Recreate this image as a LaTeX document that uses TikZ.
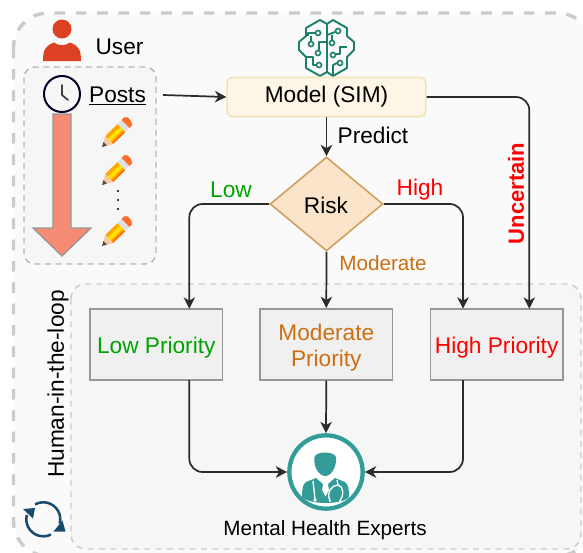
\documentclass[tikz,border=0pt]{standalone}
\usepackage{fontspec}
\setmainfont{Liberation Sans}
\usetikzlibrary{arrows.meta,shapes.geometric}
\definecolor{framegray}{HTML}{CBCBCB}
\definecolor{outerfill}{HTML}{FAFAFA}
\definecolor{innerfill}{HTML}{F6F6F6}
\definecolor{boxfill}{HTML}{F0F0F0}
\definecolor{boxline}{HTML}{979797}
\definecolor{wire}{HTML}{2B2B2B}
\definecolor{lowgreen}{HTML}{00A300}
\definecolor{modorange}{HTML}{CC6F10}
\definecolor{brainc}{HTML}{1B7F6A}
\definecolor{docteal}{HTML}{339C98}
\definecolor{refreshc}{HTML}{174A6B}
\definecolor{userred}{HTML}{DD4124}
\definecolor{salmon}{HTML}{F58B72}
\definecolor{modelfill}{HTML}{FDF5E6}
\definecolor{modelline}{HTML}{F3E3B8}
\definecolor{riskfill}{HTML}{FAE5CB}
\definecolor{riskline}{HTML}{D0A060}
\newcommand{\bigt}{\fontsize{17pt}{20pt}\selectfont}
\newcommand{\smallt}{\fontsize{15.5pt}{19pt}\selectfont}
\newcommand{\boxtxt}[1]{\raisebox{-7.2pt}[0pt][0pt]{\begin{tabular}{@{}c@{}}#1\end{tabular}}}
\tikzset{
  pxunit/.style={x=0.75pt,y=-0.75pt},
  outerframe/.style={draw=framegray,fill=outerfill,line width=2.6pt,rounded corners=26pt,dash pattern=on 8pt off 8pt},
  innerframe/.style={draw=framegray,fill=innerfill,line width=1.1pt,rounded corners=11pt,dash pattern=on 4.5pt off 4pt},
  postsframe/.style={draw=framegray!90!black,fill=innerfill,line width=1.1pt,rounded corners=8pt,dash pattern=on 4.5pt off 3.5pt},
  priobox/.style={draw=boxline,fill=boxfill,line width=1.2pt,minimum height=53.2pt,minimum width=99.5pt,inner sep=0pt,font=\bigt},
  modelbox/.style={draw=modelline,fill=modelfill,line width=1.2pt,rounded corners=4pt,minimum width=149pt,minimum height=29.5pt,font=\bigt},
  riskbox/.style={diamond,aspect=1.2,draw=riskline,fill=riskfill,line width=1.2pt,minimum width=84.75pt,minimum height=70.5pt,inner sep=0pt,font=\bigt},
  lbl/.style={inner sep=0pt,font=\bigt},
  lbls/.style={inner sep=0pt,font=\smallt},
  conn/.style={draw=wire,line width=1.3pt,rounded corners=10pt,-{Stealth[length=8.5pt,width=8.5pt,inset=2.5pt]}},
  tracew/.style={draw=brainc,line width=1.4pt,line join=round},
  traced/.style={draw=brainc,fill=white,line width=1.2pt},
  pencil/.pic={
    \fill[orange!70!yellow] (-3.9,12) -- (-11.7,4) -- (0.5,-7.9) -- (8.3,0.1) -- cycle;
    \fill[yellow!85!orange] (-6.5,9.4) -- (-9.1,6.6) -- (3.1,-5.3) -- (5.7,-2.5) -- cycle;
    \fill[orange!90!red] (-3.9,12) -- (-5.2,10.7) -- (7,-1.2) -- (8.3,0.1) -- cycle;
    \fill[orange!35!white!90!brown] (-15,15) -- (-11.7,4) -- (-3.9,12) -- cycle;
    \fill[black!70] (-15,15) -- (-13.5,10) -- (-10,13.5) -- cycle;
    \fill[black!12] (0.5,-7.9) -- (8.3,0.1) -- (12.5,-4) -- (4.7,-12) -- cycle;
    \fill[orange!65!red!85!white] (4.7,-12) -- (12.5,-4) -- (15.2,-6.8) -- (14,-11) -- (11,-14.5) -- (7.4,-14.8) -- cycle;
  }
}
\begin{document}
\begin{tikzpicture}[pxunit]
\useasboundingbox (0,0) rectangle (583,553);
% frames
\path[outerframe] (13.5,13) rectangle (592,556);
\path[postsframe] (24,67) rectangle (156,264);
\path[innerframe] (71,284) rectangle (581,549);
% user icon
\fill[userred] (62,29) circle[radius=9.5];
\fill[userred] (43,61) .. controls (43,50) and (45,46) .. (54,42.5) .. controls (58,46) and (66,46) .. (70,42.5) .. controls (79,46) and (81,50) .. (81,61) -- cycle;
\node[lbl] (user) at (119.5,47) {User};
% posts
\node[lbl] (posts) at (117.5,96) {\underline{Posts}};
\draw[draw=boxline,fill=salmon,line width=1pt] (53,114) -- (71,114) -- (71,228) -- (91,228) -- (62,256) -- (33,228) -- (53,228) -- cycle;
\node[draw=black!85!blue,line width=1.5pt,circle,minimum size=27pt,inner sep=0pt] (clock) at (62,94) {};
\draw[black!75,line width=1.3pt,line cap=round,line join=round] (62,85) -- (62,95) -- (68,100);
\pic at (117,132) {pencil};
\pic at (117,170) {pencil};
\pic at (117,231) {pencil};
\fill[black] (118,191) circle[radius=1.1] (118,200) circle[radius=1.1] (118,209) circle[radius=1.1];
% brain icon
\draw[tracew] (320,20) -- (327,24) -- (333,20) -- (347,28) -- (347,36) -- (354,42) -- (354,50) -- (347,57) -- (347,68) -- (333,76) -- (327,72) -- (320,76) -- (306,68) -- (306,57) -- (299,50) -- (299,42) -- (306,36) -- (306,28) -- cycle;
\draw[tracew] (327,24) -- (327,72);
\draw[tracew] (308,36) -- (308,33) -- (315,33);
\draw[tracew] (311,41) -- (311,36);
\draw[tracew] (327,42) -- (319,42) -- (319,50);
\draw[tracew] (306,57) -- (313,57) -- (313,65) -- (316,65);
\draw[tracew] (327,35) -- (335,32);
\draw[tracew] (332,40) -- (332,35);
\draw[tracew] (347,47) -- (340,47) -- (340,54) -- (336,54);
\draw[tracew] (333,75) -- (333,65) -- (337,63);
\path[traced] (318,33) circle[radius=2.5] (311,44) circle[radius=2.5] (318,53) circle[radius=2.5] (319,65) circle[radius=2.5] (338,31) circle[radius=2.5] (332,43) circle[radius=2.5] (333,55) circle[radius=2.5] (340,63) circle[radius=2.5];
% main nodes
\node[modelbox] (model) at (326.5,97) {Model (SIM)};
\node[riskbox] (risk) at (326.5,204) {};
\node[lbl] (risktext) at (326,205) {Risk};
\node[priobox,text=lowgreen] (low) at (156.3,344.3) {\boxtxt{Low Priority}};
\node[priobox,text=modorange] (mod) at (326.3,344.3) {\boxtxt{Moderate\\Priority}};
\node[priobox,text=red] (high) at (496.7,344.3) {\boxtxt{High Priority}};
% doctor
\node[circle,draw=docteal,line width=3.2pt,fill=white,minimum size=55pt,inner sep=0pt] (doc) at (326,472) {};
\fill[docteal] (314.5,457) .. controls (316,451) and (334,451) .. (336,457) .. controls (337,467) and (331,476) .. (325.5,476) .. controls (319,476) and (313,467) .. (314.5,457) -- cycle;
\fill[docteal] (302,497) .. controls (302,488) and (303,484) .. (306,482) -- (316,478) -- (323,484) -- (322,490) -- (325.5,497) -- (329,490) -- (328,484) -- (335,478) -- (345,482) .. controls (348,484) and (349,488) .. (349,497) .. controls (342,505) and (310,505) .. (302,497) -- cycle;
\draw[white,line width=1pt] (313,481) -- (315,499);
\draw[white,line width=1pt] (337,480) -- (338,485);
\draw[white,line width=1pt] (330,501) .. controls (326,492) and (332,485) .. (338,485) .. controls (344,486) and (344,496) .. (340,501);
\fill[white] (315,500) circle[radius=1.8] (330,501) circle[radius=1.1] (340,501) circle[radius=1.1];
\node[lbls] (experts) at (325,530) {Mental Health Experts};
% labels
\node[lbl] (predict) at (373,135) {Predict};
\node[lbl,text=lowgreen] (lowl) at (231,190) {Low};
\node[lbl,text=red] (highl) at (420,190) {High};
\node[lbls,text=modorange] (modl) at (383,263) {Moderate};
\node[inner sep=0pt,font=\fontsize{16.5pt}{20pt}\selectfont,text=red,rotate=90] (unc) at (516,193.5) {\textbf{Uncertain}};
\node[lbl,rotate=90] (hitl) at (58,384) {Human-in-the-loop};
% anchor points on boxes
\coordinate (postsout) at (163,95);
\coordinate (lowin) at (189.3,308.7);
\coordinate (lowout) at (189.3,380);
\coordinate (highin) at (463,308.7);
\coordinate (highout) at (463,380);
\coordinate (uncin) at (529.3,308.7);
% connectors
\draw[conn] (postsout) -- (model.west);
\draw[conn] (model.south) -- (risk.north);
\draw[conn] (model.east) -| (uncin);
\draw[conn] (risk.west) -| (lowin);
\draw[conn] (risk.east) -| (highin);
\draw[conn] (risk.south) -- (mod.north);
\draw[conn] (lowout) |- (doc.west);
\draw[conn] (highout) |- (doc.east);
\draw[conn] (mod.south) -- (doc.north);
% refresh icon
\draw[refreshc,line width=1.9pt] (43.3,519.3) ++(241:17) arc[start angle=241,end angle=375,radius=17];
\draw[refreshc,line width=1.9pt] (43.3,519.3) ++(63:17) arc[start angle=63,end angle=195,radius=17];
\fill[refreshc] (23,509) -- (35,508) -- (33,518.5) -- cycle;
\fill[refreshc] (65.5,531.5) -- (53.5,531.5) -- (62.5,520.5) -- cycle;
\end{tikzpicture}
\end{document}
